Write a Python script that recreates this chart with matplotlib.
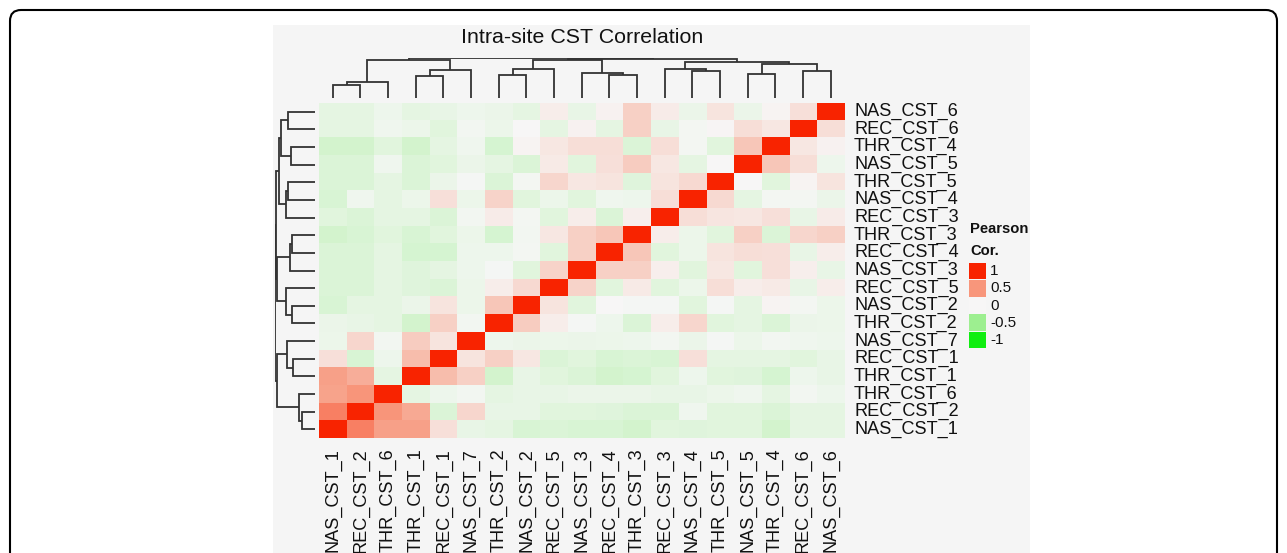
import numpy as np
import matplotlib
matplotlib.use("Agg")
import matplotlib.pyplot as plt
from matplotlib.colors import LinearSegmentedColormap, Normalize
from matplotlib.patches import FancyBboxPatch, Rectangle

plt.rcParams['font.family'] = ['Liberation Sans', 'DejaVu Sans']

# ---------------- data ----------------
title = "Intra-site CST Correlation"
col_labels = ["NAS_CST_1", "REC_CST_2", "THR_CST_6", "THR_CST_1", "REC_CST_1",
              "NAS_CST_7", "THR_CST_2", "NAS_CST_2", "REC_CST_5", "NAS_CST_3",
              "REC_CST_4", "THR_CST_3", "REC_CST_3", "NAS_CST_4", "THR_CST_5",
              "NAS_CST_5", "THR_CST_4", "REC_CST_6", "NAS_CST_6"]
row_labels = col_labels[::-1]  # top to bottom

# correlation values as displayed (rows top->bottom, columns left->right)
corr = [
    [-0.10, -0.10, -0.05, -0.10, -0.08, -0.05, -0.07, -0.10, 0.05, -0.08, 0.03, 0.20, 0.06, -0.07, 0.10, -0.07, 0.02, 0.12, 1.00],
    [-0.10, -0.10, -0.04, -0.06, -0.12, -0.03, -0.06, 0.00, -0.10, 0.03, -0.10, 0.20, -0.08, -0.02, 0.01, 0.13, 0.08, 1.00, 0.13],
    [-0.20, -0.20, -0.12, -0.20, -0.10, -0.04, -0.18, 0.02, 0.08, 0.13, 0.13, -0.15, 0.13, -0.02, -0.12, 0.25, 1.00, 0.08, 0.03],
    [-0.15, -0.15, -0.04, -0.15, -0.12, -0.07, -0.10, -0.15, 0.07, -0.12, 0.12, 0.22, 0.08, -0.10, 0.00, 1.00, 0.25, 0.13, -0.05],
    [-0.15, -0.15, -0.10, -0.15, -0.07, -0.01, -0.15, -0.02, 0.17, 0.08, 0.10, -0.13, 0.10, 0.15, 1.00, 0.00, -0.12, 0.02, 0.10],
    [-0.17, -0.04, -0.10, -0.06, 0.12, -0.06, 0.18, -0.12, -0.06, -0.12, -0.04, -0.05, 0.13, 1.00, 0.15, -0.10, -0.02, -0.02, -0.07],
    [-0.12, -0.15, -0.10, -0.10, -0.15, -0.03, 0.06, -0.02, -0.12, 0.05, -0.15, 0.04, 1.00, 0.13, 0.09, 0.08, 0.12, -0.08, 0.06],
    [-0.20, -0.17, -0.12, -0.17, -0.12, -0.06, -0.18, -0.03, 0.08, 0.20, 0.25, 1.00, 0.05, -0.06, -0.12, 0.20, -0.15, 0.17, 0.20],
    [-0.15, -0.15, -0.10, -0.18, -0.18, -0.05, -0.05, -0.02, -0.12, 0.20, 1.00, 0.25, -0.12, -0.06, 0.10, 0.13, 0.12, -0.08, 0.05],
    [-0.15, -0.15, -0.10, -0.13, -0.10, -0.05, -0.01, -0.12, 0.18, 1.00, 0.20, 0.20, 0.04, -0.12, 0.08, -0.12, 0.12, 0.04, -0.08],
    [-0.15, -0.15, -0.10, -0.13, -0.15, -0.06, 0.05, 0.15, 1.00, 0.18, -0.12, 0.07, -0.12, -0.06, 0.13, 0.05, 0.07, -0.08, 0.05],
    [-0.17, -0.10, -0.10, -0.07, 0.10, -0.06, 0.25, 1.00, 0.10, -0.12, 0.00, -0.01, -0.01, -0.12, -0.01, -0.10, 0.02, -0.02, -0.06],
    [-0.07, -0.08, -0.10, -0.20, 0.20, -0.03, 1.00, 0.22, 0.05, -0.01, -0.05, -0.15, 0.05, 0.17, -0.12, -0.10, -0.15, -0.07, -0.06],
    [-0.06, 0.17, -0.03, 0.22, 0.10, 1.00, -0.05, -0.07, -0.06, -0.07, -0.06, -0.05, -0.03, -0.07, -0.01, -0.06, -0.03, -0.04, -0.05],
    [0.12, -0.17, -0.05, 0.30, 1.00, 0.10, 0.20, 0.08, -0.15, -0.12, -0.17, -0.15, -0.17, 0.12, -0.10, -0.10, -0.10, -0.12, -0.08],
    [0.45, 0.38, -0.10, 1.00, 0.30, 0.20, -0.20, -0.08, -0.12, -0.15, -0.20, -0.18, -0.12, -0.05, -0.12, -0.13, -0.18, -0.05, -0.08],
    [0.43, 0.50, 1.00, -0.10, -0.05, -0.03, -0.10, -0.08, -0.08, -0.07, -0.07, -0.07, -0.08, -0.08, -0.06, -0.04, -0.10, -0.03, -0.05],
    [0.60, 1.00, 0.50, 0.40, -0.15, 0.17, -0.08, -0.08, -0.12, -0.12, -0.13, -0.15, -0.15, -0.04, -0.12, -0.12, -0.15, -0.10, -0.10],
    [1.00, 0.60, 0.45, 0.45, 0.12, -0.08, -0.10, -0.17, -0.15, -0.17, -0.17, -0.20, -0.12, -0.13, -0.12, -0.12, -0.20, -0.10, -0.10],
]

# hierarchical clustering merges: (left, right, height); leaves 0..18, nodes 19..
merges = [
    (0, 1, 12.7), (19, 2, 16.0), (3, 4, 22.0), (21, 5, 27.7), (20, 22, 37.7),
    (6, 7, 23.3), (24, 8, 29.3), (10, 11, 23.3), (9, 26, 25.0), (25, 27, 38.5),
    (13, 14, 26.7), (12, 29, 28.7), (15, 16, 24.0), (17, 18, 27.3), (31, 32, 34.0),
    (30, 33, 36.3), (28, 34, 39.0), (23, 35, 40.0),
]

legend_values = [1, 0.5, 0, -0.5, -1]
legend_texts = ["1", "0.5", "0", "-0.5", "-1"]

# ---------------- figure ----------------
W, H = 1287, 553
fig = plt.figure(figsize=(W / 100, H / 100), dpi=100)


def px_axes(x0, y0, x1, y1):
    return fig.add_axes([x0 / W, 1 - y1 / H, (x1 - x0) / W, (y1 - y0) / H])


bg = fig.add_axes([0, 0, 1, 1])
bg.set_xlim(0, W)
bg.set_ylim(H, 0)
bg.axis('off')
bg.add_patch(FancyBboxPatch((10, 10), 1267, 620, boxstyle="round,pad=0,rounding_size=11",
                            fc='white', ec='black', lw=1.5))
bg.add_patch(Rectangle((273, 25), 757, 560, fc='#f5f5f5', ec='none'))

cmap = LinearSegmentedColormap.from_list(
    "pc", [(0.0, '#10ee10'), (0.25, '#9def90'), (0.5, '#f7f7f7'),
           (0.75, '#f8977c'), (1.0, '#f82300')])
norm = Normalize(-1, 1)

n = len(col_labels)
hx0, hx1, hy0, hy1 = 319, 844.5, 102.7, 438.3

ax = px_axes(hx0, hy0, hx1, hy1)
ax.imshow(np.array(corr), cmap=cmap, norm=norm, extent=(0, n, 0, n),
          origin='upper', aspect='auto', interpolation='nearest')
ax.set_xlim(0, n)
ax.set_ylim(0, n)
ax.axis('off')


def dendro_segments(merges, nleaves):
    pos = {i: i + 0.5 for i in range(nleaves)}
    hgt = {i: 0.0 for i in range(nleaves)}
    segs = []
    for k, (a, b, h) in enumerate(merges):
        node = nleaves + k
        xa, xb = pos[a], pos[b]
        segs.append(([xa, xa, xb, xb], [hgt[a], h, h, hgt[b]]))
        pos[node] = (xa + xb) / 2
        hgt[node] = h
    return segs


segs = dendro_segments(merges, n)
hmax = max(m[2] for m in merges)
lc = '#333333'

# column dendrogram (top)
axc = px_axes(hx0, 58, hx1, 98)
for xs, hs in segs:
    axc.plot(xs, hs, color=lc, lw=1.3, solid_capstyle='butt', solid_joinstyle='miter')
axc.set_xlim(0, n)
axc.set_ylim(0, hmax)
axc.axis('off')

# row dendrogram (left)
axr = px_axes(275, hy0, 315, hy1)
for xs, hs in segs:
    axr.plot(hs, xs, color=lc, lw=1.3, solid_capstyle='butt', solid_joinstyle='miter')
axr.set_xlim(hmax, 0)
axr.set_ylim(0, n)
axr.axis('off')

# title
bg.text((hx0 + hx1) / 2, 43.3, title, ha='center', va='baseline', fontsize=15.4, color='#111111')

cw = (hx1 - hx0) / n
rh = (hy1 - hy0) / n
for i, lab in enumerate(row_labels):
    bg.text(854, hy0 + rh * (i + 0.5), lab, ha='left', va='center', fontsize=13.1, color='#111111')
for j, lab in enumerate(col_labels):
    bg.text(hx0 + cw * (j + 0.5), 448, lab, ha='center', va='top', rotation=90,
            fontsize=13.1, color='#111111')

# legend
bg.text(970, 233.3, "Pearson", ha='left', va='baseline', fontsize=10.6, fontweight='bold', color='#111111')
bg.text(970, 254.6, "Cor.", ha='left', va='baseline', fontsize=10.6, fontweight='bold', color='#111111')
box_top, box_h = 262.7, 17.2
for k, (v, t) in enumerate(zip(legend_values, legend_texts)):
    y = box_top + k * box_h
    bg.add_patch(Rectangle((969, y), 17, box_h - 0.6, fc=cmap(norm(v)), ec='none'))
    bg.text(990, y + box_h / 2, t, ha='left', va='center', fontsize=11, color='#111111')

fig.savefig("out.png", dpi=100)
